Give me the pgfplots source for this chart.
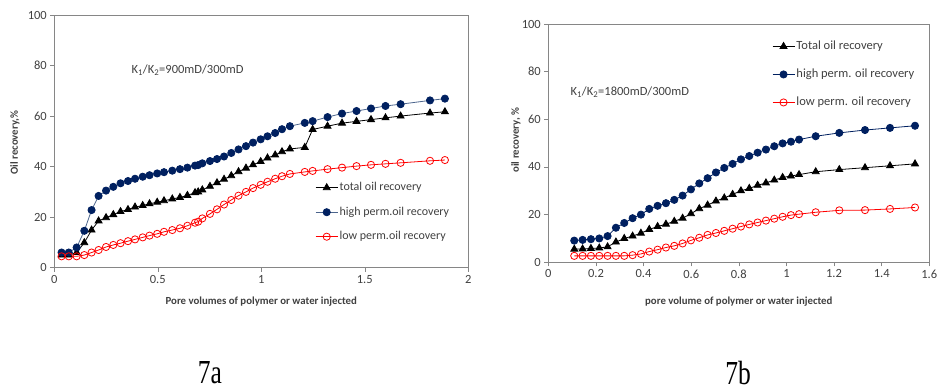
\documentclass[border=0pt]{standalone}
\usepackage{fontspec}
\setmainfont{Carlito}
\newfontfamily\capfont{Liberation Serif}
\usepackage{pgfplots}
\pgfplotsset{compat=1.18}
\definecolor{navy}{RGB}{0,32,96}
\definecolor{slate}{RGB}{75,100,140}
\definecolor{axgray}{RGB}{134,134,134}
\definecolor{txt}{RGB}{64,64,64}
\pgfplotsset{
  excel/.style={
    scale only axis,
    axis line style={axgray},
    tick style={axgray, thin},
    tick align=outside,
    major tick length=4pt,
    xtick pos=bottom, ytick pos=left,
    ymin=0, ymax=100, ytick={0,20,...,100},
    tick label style={font=\fontsize{12.5}{14}\selectfont, text=txt},
    /pgf/number format/assume math mode=true,
    label style={font=\bfseries\fontsize{10.8}{12}\selectfont, text=txt},
    legend cell align=left,
    legend image code/.code={\draw[mark repeat=2,mark phase=2,##1] plot coordinates {(0pt,0pt) (11pt,0pt) (22pt,0pt)};},
  },
  tot/.style={black, line width=0.8pt, mark=triangle*, mark size=4pt, mark options={fill=black}},
  hig/.style={line width=0.8pt, mark=*, mark size=3.6pt, mark options={draw=navy, fill=navy}},
  low/.style={red, line width=0.8pt, mark=o, mark size=3.6pt, mark options={draw=red, fill=white, line width=0.8pt}},
}
\begin{document}
\begin{tikzpicture}[x=1pt,y=1pt]
\path[use as bounding box] (0,0) rectangle (938,390);
% ---------------- 7a
\begin{axis}[excel,
  at={(54.3pt,122.3pt)}, anchor=south west,
  width=414pt, height=252.7pt,
  xmin=0, xmax=2, xtick={0,0.5,1,1.5,2},
  xticklabels={0,0.5,1,1.5,2},
  xlabel={Pore volumes of polymer or water injected},
  ylabel={Oil recovery,\%},
  xlabel style={at={(axis description cs:0.5,-0.1345)}, anchor=center},
  ylabel style={at={(axis description cs:-0.095,0.495)}, anchor=center, rotate=0},
  legend style={at={(axis description cs:0.63,0.345)}, anchor=north west, draw=none, fill=none,
    font=\fontsize{12}{13}\selectfont, text=txt, inner sep=0pt, row sep=10.5pt,
    nodes={text height=8.5pt, text depth=2.5pt, inner sep=1.5pt}},
]
\addplot[tot] coordinates {
(0.035,5) (0.07,5) (0.108,6) (0.145,9.9) (0.18,14.9) (0.214,18.5) (0.25,19.8) (0.285,21)
(0.32,22.2) (0.356,23) (0.39,24) (0.427,24.6) (0.46,25.3) (0.497,25.9) (0.53,26.5) (0.57,27.2)
(0.607,27.8) (0.643,28.6) (0.68,29.7) (0.695,30) (0.715,30.8) (0.752,32.2) (0.786,33.6) (0.82,35)
(0.855,36.4) (0.89,38) (0.926,39.4) (0.96,40.7) (0.997,42) (1.03,43.4) (1.067,44.6) (1.10,45.9)
(1.138,47) (1.21,47.6) (1.248,54.7) (1.32,56) (1.39,57.2) (1.46,57.9) (1.53,58.6) (1.60,59.3)
(1.673,60) (1.815,61.2) (1.887,61.7)};
\addlegendentry{total oil recovery}
\addplot[hig, slate] coordinates {
(0.035,6) (0.07,6) (0.108,8) (0.145,14.6) (0.18,22.8) (0.214,28.4) (0.25,30.5) (0.285,32)
(0.32,33.4) (0.356,34.3) (0.39,35.2) (0.427,36) (0.46,36.6) (0.497,37.3) (0.53,37.8) (0.57,38.4)
(0.607,39) (0.643,39.6) (0.68,40.4) (0.695,40.6) (0.715,41.3) (0.752,42.2) (0.786,43) (0.82,44)
(0.855,45.4) (0.89,46.8) (0.926,48.1) (0.96,49.5) (0.997,50.8) (1.03,52) (1.067,53.3) (1.10,54.8)
(1.138,56) (1.21,57.3) (1.248,58) (1.32,59.6) (1.39,61) (1.46,62) (1.53,63) (1.60,64)
(1.673,64.7) (1.815,66.2) (1.887,66.9)};
\addlegendentry{high perm.oil recovery}
\addplot[low] coordinates {
(0.035,4.5) (0.07,4.5) (0.108,4.5) (0.145,5) (0.18,6) (0.214,7) (0.25,8.2) (0.285,9)
(0.32,9.7) (0.356,10.5) (0.39,11.2) (0.427,12) (0.46,12.7) (0.497,13.4) (0.53,14.2) (0.57,14.9)
(0.607,15.6) (0.643,16.6) (0.68,17.8) (0.695,18.2) (0.715,19.5) (0.752,21.3) (0.786,23.1) (0.82,25)
(0.855,26.8) (0.89,28.5) (0.926,30) (0.96,31.5) (0.997,32.8) (1.03,34) (1.067,35.2) (1.10,36.2)
(1.138,37.1) (1.21,37.9) (1.248,38.3) (1.32,39) (1.39,39.6) (1.46,40.2) (1.53,40.7) (1.60,41.1)
(1.673,41.5) (1.815,42.3) (1.887,42.6)};
\addlegendentry{low perm.oil recovery}
\node[anchor=west, text=txt, font=\fontsize{12.5}{14}\selectfont] at (axis cs:0.356,78.2) {K\textsubscript{1}/K\textsubscript{2}=900mD/300mD};
\end{axis}
% ---------------- 7b
\begin{axis}[excel,
  at={(548.3pt,127.7pt)}, anchor=south west,
  width=381pt, height=238.3pt,
  xmin=0, xmax=1.6, xtick={0,0.2,...,1.6},
  xticklabels={0,0.2,0.4,0.6,0.8,1,1.2,1.4,1.6},
  xlabel={pore volume of polymer or water injected},
  ylabel={oil recovery, \%},
  xlabel style={at={(axis description cs:0.5,-0.165)}, anchor=center},
  ylabel style={at={(axis description cs:-0.0848,0.513)}, anchor=center, rotate=0},
  legend style={at={(axis description cs:0.587,0.937)}, anchor=north west, draw=none, fill=none,
    font=\fontsize{12.5}{14}\selectfont, text=txt, inner sep=0pt, row sep=13.5pt,
    nodes={text height=9pt, text depth=2.5pt, inner sep=1.5pt}},
]
\addplot[tot] coordinates {
(0.109,5.5) (0.144,5.6) (0.179,5.8) (0.214,6) (0.249,6.5) (0.284,8.5) (0.319,10) (0.354,11)
(0.389,12.2) (0.424,13.8) (0.459,15) (0.494,16) (0.529,17.2) (0.564,18.5) (0.599,20.4) (0.634,22.5)
(0.669,24) (0.704,25.7) (0.739,27) (0.774,28.5) (0.809,30) (0.844,31) (0.879,32.3) (0.914,33.3)
(0.949,34.5) (0.984,35.6) (1.019,36.2) (1.053,36.8) (1.123,38) (1.222,38.9) (1.33,39.7) (1.435,40.5)
(1.54,41.3)};
\addlegendentry{Total oil recovery}
\addplot[hig, navy] coordinates {
(0.109,9.1) (0.144,9.4) (0.179,9.7) (0.214,10) (0.249,11) (0.284,14.5) (0.319,16.5) (0.354,18.5)
(0.389,20) (0.424,22.4) (0.459,23.7) (0.494,24.8) (0.529,26.2) (0.564,28) (0.599,30.6) (0.634,33.1)
(0.669,35.3) (0.704,37.7) (0.739,39.6) (0.774,41.3) (0.809,43.2) (0.844,44.6) (0.879,46) (0.914,47.3)
(0.949,48.7) (0.984,49.9) (1.019,50.6) (1.053,51.5) (1.123,52.9) (1.222,54.3) (1.33,55.5) (1.435,56.4)
(1.54,57.3)};
\addlegendentry{high perm. oil recovery}
\addplot[low] coordinates {
(0.109,2.7) (0.144,2.7) (0.179,2.7) (0.214,2.7) (0.249,2.7) (0.284,2.7) (0.319,2.7) (0.354,3.0)
(0.389,3.5) (0.424,4.5) (0.459,5.3) (0.494,6.2) (0.529,6.9) (0.564,7.9) (0.599,9.2) (0.634,10.3)
(0.669,11.5) (0.704,12.3) (0.739,13.2) (0.774,14.1) (0.809,15) (0.844,15.9) (0.879,16.7) (0.914,17.5)
(0.949,18.3) (0.984,19.1) (1.019,19.8) (1.053,20.2) (1.123,21) (1.222,21.8) (1.33,21.9) (1.435,22.4)
(1.54,23)};
\addlegendentry{low perm. oil recovery}
\node[anchor=west, text=txt, font=\fontsize{12.5}{14}\selectfont] at (axis cs:0.0785,71.3) {K\textsubscript{1}/K\textsubscript{2}=1800mD/300mD};
\end{axis}
\node[anchor=center, inner sep=0pt, font=\capfont\fontsize{30}{32}\selectfont, xscale=0.85, yscale=1.12] at (210,17) {7a};
\node[anchor=center, inner sep=0pt, font=\capfont\fontsize{30}{32}\selectfont, xscale=0.85, yscale=1.12] at (738,17) {7b};
\end{tikzpicture}
\end{document}
